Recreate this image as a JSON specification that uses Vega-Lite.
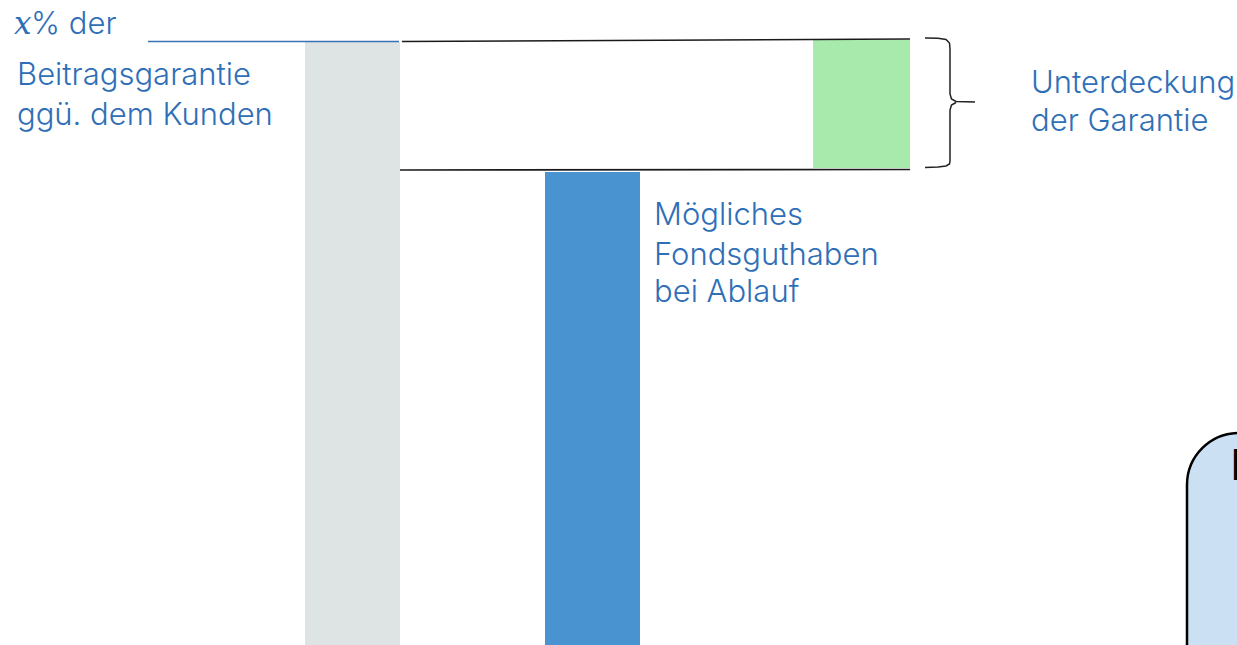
{
  "$schema": "https://vega.github.io/schema/vega-lite/v6.json",
  "width": 1237,
  "height": 645,
  "autosize": {"type": "none"},
  "padding": 0,
  "background": "white",
  "view": {"stroke": null},
  "datasets": {
    "bars": [
      {"name": "Beitragsgarantie", "x": 305, "x2": 400, "y": 0, "y2": 603, "color": "#dee3e3"},
      {"name": "Fondsguthaben", "x": 545, "x2": 640, "y": 0, "y2": 473, "color": "#4893d0"},
      {"name": "Unterdeckung", "x": 813, "x2": 910, "y": 477, "y2": 605, "color": "#a8e9ac"}
    ],
    "box": [
      {"x": 1187, "x2": 1320, "y": 212, "y2": -120}
    ],
    "lines": [
      {"seg": "blue", "o": 1, "x": 148, "y": 603.5},
      {"seg": "blue", "o": 2, "x": 399, "y": 603.5},
      {"seg": "top", "o": 1, "x": 402, "y": 603.5},
      {"seg": "top", "o": 2, "x": 910, "y": 606},
      {"seg": "bottom", "o": 1, "x": 400, "y": 475},
      {"seg": "bottom", "o": 2, "x": 910, "y": 475.5}
    ],
    "brace": [
      {"seg": "up", "o": 1, "x": 925, "y": 607},
      {"seg": "up", "o": 2, "x": 938, "y": 606.7},
      {"seg": "up", "o": 3, "x": 946, "y": 605.5},
      {"seg": "up", "o": 4, "x": 949.5, "y": 602},
      {"seg": "up", "o": 5, "x": 950, "y": 596},
      {"seg": "up", "o": 6, "x": 950, "y": 551},
      {"seg": "up", "o": 7, "x": 951.5, "y": 546},
      {"seg": "up", "o": 8, "x": 956, "y": 543.5},
      {"seg": "up", "o": 9, "x": 975, "y": 543},
      {"seg": "down", "o": 1, "x": 956, "y": 542.5},
      {"seg": "down", "o": 2, "x": 951.5, "y": 540},
      {"seg": "down", "o": 3, "x": 950, "y": 535},
      {"seg": "down", "o": 4, "x": 950, "y": 484},
      {"seg": "down", "o": 5, "x": 949.5, "y": 481},
      {"seg": "down", "o": 6, "x": 946, "y": 479},
      {"seg": "down", "o": 7, "x": 938, "y": 478},
      {"seg": "down", "o": 8, "x": 925, "y": 477.5}
    ],
    "labels": [
      {"text": "% der", "x": 31, "y": 611},
      {"text": "Beitragsgarantie", "x": 17, "y": 560},
      {"text": "ggü. dem Kunden", "x": 17, "y": 520},
      {"text": "Unterdeckung", "x": 1031, "y": 552},
      {"text": "der Garantie", "x": 1031, "y": 514},
      {"text": "Mögliches", "x": 654, "y": 420},
      {"text": "Fondsguthaben", "x": 654, "y": 380},
      {"text": "bei Ablauf", "x": 654, "y": 343}
    ],
    "mathx": [
      {"text": "x", "x": 14, "y": 611}
    ],
    "boxtext": [
      {"text": "E", "x": 1231, "y": 165}
    ]
  },
  "encoding": {
    "x": {"field": "x", "type": "quantitative", "scale": {"domain": [0, 1237], "zero": false, "nice": false}, "axis": null},
    "y": {"field": "y", "type": "quantitative", "scale": {"domain": [0, 645], "zero": false, "nice": false}, "axis": null}
  },
  "layer": [
    {
      "data": {"name": "bars"},
      "mark": {"type": "rect"},
      "encoding": {
        "x2": {"field": "x2"},
        "y2": {"field": "y2"},
        "color": {"field": "color", "type": "nominal", "scale": null}
      }
    },
    {
      "data": {"name": "lines"},
      "mark": {"type": "line", "strokeWidth": 1.6},
      "encoding": {
        "detail": {"field": "seg"},
        "order": {"field": "o"},
        "color": {"field": "seg", "type": "nominal", "scale": {"domain": ["blue", "top", "bottom"], "range": ["#3a72b8", "#1a1a1a", "#1a1a1a"]}, "legend": null}
      }
    },
    {
      "data": {"name": "brace"},
      "mark": {"type": "line", "strokeWidth": 1.5, "color": "#222222"},
      "encoding": {
        "detail": {"field": "seg"},
        "order": {"field": "o"}
      }
    },
    {
      "data": {"name": "box"},
      "mark": {"type": "rect", "fill": "#cce0f4", "stroke": "#000000", "strokeWidth": 2.5, "cornerRadius": 52},
      "encoding": {
        "x2": {"field": "x2"},
        "y2": {"field": "y2"}
      }
    },
    {
      "data": {"name": "labels"},
      "mark": {"type": "text", "align": "left", "baseline": "alphabetic", "font": "Inter", "fontSize": 31, "fontWeight": 300, "color": "#2f6fb7"},
      "encoding": {"text": {"field": "text"}}
    },
    {
      "data": {"name": "mathx"},
      "mark": {"type": "text", "align": "left", "baseline": "alphabetic", "font": "DejaVu Serif", "fontStyle": "italic", "fontSize": 31, "color": "#2f6fb7"},
      "encoding": {"text": {"field": "text"}}
    },
    {
      "data": {"name": "boxtext"},
      "mark": {"type": "text", "align": "left", "baseline": "alphabetic", "font": "Liberation Sans", "fontWeight": "bold", "fontSize": 44, "color": "#000000"},
      "encoding": {"text": {"field": "text"}}
    }
  ]
}
